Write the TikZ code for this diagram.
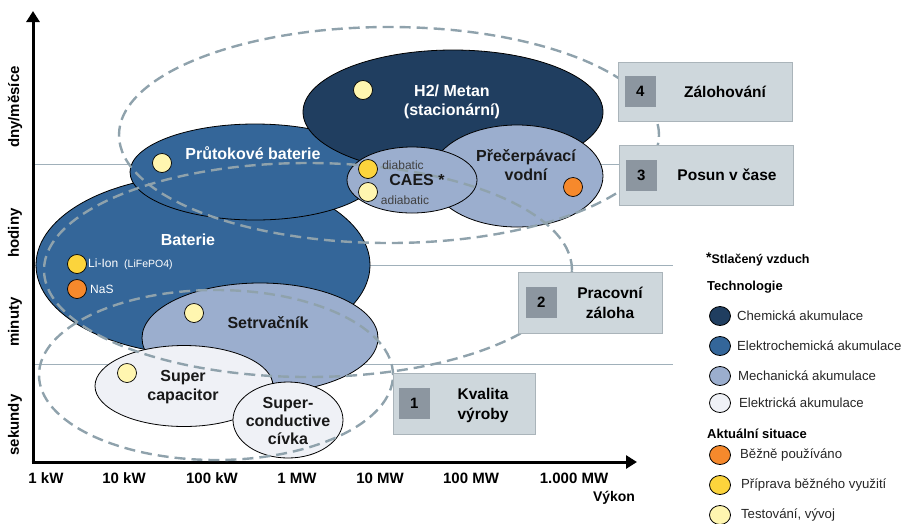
\documentclass[tikz,border=0pt]{standalone}
\usepackage{fontspec}
\setmainfont{Liberation Sans}
\usetikzlibrary{shapes.geometric, arrows.meta, positioning}
\definecolor{chemNavy}{RGB}{32, 62, 96}
\definecolor{elchemBlue}{RGB}{52, 102, 153}
\definecolor{mechBlue}{RGB}{155, 174, 206}
\definecolor{elecGray}{RGB}{239, 241, 246}
\definecolor{usedOrange}{RGB}{246, 137, 44}
\definecolor{prepGold}{RGB}{252, 212, 60}
\definecolor{testYellow}{RGB}{255, 246, 176}
\definecolor{zoneGray}{RGB}{143, 162, 172}
\definecolor{gridGray}{RGB}{160, 176, 186}
\definecolor{boxFill}{RGB}{206, 215, 220}
\definecolor{boxLine}{RGB}{170, 180, 186}
\definecolor{numGray}{RGB}{140, 150, 160}

\begin{document}
\begin{tikzpicture}[
    % one unit = one pixel of the chart, y runs downwards
    x=1pt, y=-1pt,
    % --- Storage Technology Blobs ---
    blob/.style={ellipse, draw=black, line width=0.8pt, inner sep=0pt},
    chemBlob/.style={blob, fill=chemNavy},
    elchemBlob/.style={blob, fill=elchemBlue},
    mechBlob/.style={blob, fill=mechBlue},
    elecBlob/.style={blob, fill=elecGray},
    % --- Application Zones ---
    zone/.style={ellipse, draw=zoneGray, line width=2.4pt, dash pattern=on 11pt off 6pt, inner sep=0pt},
    % --- Status Dots ---
    dot/.style={circle, draw=black, line width=0.7pt, minimum size=19pt, inner sep=0pt},
    legendDot/.style={ellipse, draw=black, line width=0.8pt, minimum width=21pt, minimum height=19pt, inner sep=0pt},
    % --- Texts ---
    lightText/.style={font=\bfseries\fontsize{16}{19.5}\selectfont, text=white, align=center},
    darkText/.style={font=\bfseries\fontsize{16}{19}\selectfont, text=black!90, align=center},
    smallText/.style={font=\fontsize{12}{14}\selectfont, inner sep=0pt},
    axisLabel/.style={font=\bfseries\fontsize{15}{17}\selectfont},
    legendTitle/.style={font=\bfseries\fontsize{13}{15}\selectfont, anchor=west, inner sep=0pt},
    legendText/.style={font=\fontsize{13.2}{15}\selectfont, text=black!85, inner sep=0pt},
    % --- Application Boxes ---
    appBox/.style={rectangle, fill=boxFill, draw=boxLine, line width=0.8pt, minimum height=60pt},
    numBox/.style={rectangle, fill=numGray, minimum size=31pt, inner sep=0pt, font=\bfseries\fontsize{15}{17}\selectfont},
    boxText/.style={font=\bfseries\fontsize{15.5}{20}\selectfont, align=center},
    gridLine/.style={draw=gridGray, line width=0.8pt},
    axis/.style={-{Triangle[length=11pt, width=13pt]}, line width=3pt}
]
    \useasboundingbox (0,0) rectangle (904,523);

    % --- Grid Lines (time bands) ---
    \draw [gridLine] (33,164) -- (619,164);
    \draw [gridLine] (33,265) -- (673,265);
    \draw [gridLine] (33,364) -- (673,364);

    % --- Axes ---
    \coordinate (origin) at (33,462);
    \coordinate (xTip) at (637,462);
    \coordinate (yTip) at (33,11);
    \draw [axis] ([yshift=-1.5pt]origin) -- (yTip);
    \draw [axis] ([xshift=-1.5pt]origin) -- (xTip);

    \node [axisLabel, rotate=90] (dny) at (15,107) {dny/měsíce};
    \node [axisLabel, rotate=90] (hod) at (15,233) {hodiny};
    \node [axisLabel, rotate=90] (min) at (15,322) {minuty};
    \node [axisLabel, rotate=90] (sek) at (15,425) {sekundy};

    \node [axisLabel] (p1) at (46,478) {1 kW};
    \node [axisLabel] (p2) at (124,478) {10 kW};
    \node [axisLabel] (p3) at (212,478) {100 kW};
    \node [axisLabel] (p4) at (297,478) {1 MW};
    \node [axisLabel] (p5) at (380,478) {10 MW};
    \node [axisLabel] (p6) at (471,478) {100 MW};
    \node [axisLabel] (p7) at (574,478) {1.000 MW};
    \node [axisLabel, font=\bfseries\fontsize{14}{16}\selectfont] (vykon) at (614,498) {Výkon};

    % --- Technology Blobs (back to front) ---
    \node (baterie) [elchemBlob, minimum width=334pt, minimum height=180pt] at (203,265) {};
    \node (prutok) [elchemBlob, minimum width=250pt, minimum height=96pt] at (255,172) {};
    \node (h2) [chemBlob, minimum width=300pt, minimum height=124pt] at (453,112) {};
    \node (precerp) [mechBlob, minimum width=172pt, minimum height=102pt] at (517,176) {};
    \node (caes) [mechBlob, minimum width=130pt, minimum height=66pt] at (412,180) {};
    \node (setrv) [mechBlob, minimum width=236pt, minimum height=110pt] at (260,338) {};
    \node (supcap) [elecBlob, minimum width=178pt, minimum height=81pt] at (184,386) {};
    \node (supcond) [elecBlob, minimum width=110pt, minimum height=76pt] at (288,420) {};

    % --- Application Zones (dashed) ---
    \node (zone1) [zone, minimum width=354pt, minimum height=170pt] at (216,375) {};
    \node (zone2) [zone, minimum width=528pt, minimum height=214pt] at (308,270) {};
    \node (zone3) [zone, minimum width=540pt, minimum height=216pt] at (389,135) {};

    % --- Blob Labels ---
    \node [lightText] (h2Lbl) at (452,102) {H2/ Metan\\(stacionární)};
    \node [darkText] (precerpLbl) at (526,165) {Přečerpávací\\vodní};
    \node [darkText] (caesLbl) at (417,180) {CAES *};
    \node [smallText, text=black!75] (diabLbl) at (403,165) {diabatic};
    \node [smallText, text=black!75] (adiabLbl) at (405,200) {adiabatic};
    \node [lightText] (prutokLbl) at (253,153) {Průtokové baterie};
    \node [lightText] (bateLbl) at (188,240) {Baterie};
    \node [darkText] (setrvLbl) at (268,323) {Setrvačník};
    \node [darkText] (supcapLbl) at (183,387) {Super\\capacitor};
    \node [darkText, font=\bfseries\fontsize{16}{18}\selectfont] (supcondLbl) at (288,421) {Super-\\conductive\\cívka};

    % --- Status Dots ---
    \node (dotH2) [dot, fill=testYellow] at (363,90) {};
    \node (dotPrecerp) [dot, fill=usedOrange] at (573,187) {};
    \node (dotDiab) [dot, fill=prepGold] at (368,169) {};
    \node (dotAdiab) [dot, fill=testYellow] at (368,192) {};
    \node (dotPrutok) [dot, fill=testYellow] at (162,163) {};
    \node (dotLiIon) [dot, fill=prepGold] at (77,264) {};
    \node (dotNaS) [dot, fill=usedOrange] at (77,289) {};
    \node (dotSetrv) [dot, fill=testYellow] at (194,313) {};
    \node (dotSupcap) [dot, fill=testYellow] at (127,373) {};

    \node [smallText, text=white, anchor=west] (liIonLbl) at (88,264) {Li-Ion\hspace{6pt}{\fontsize{10.5}{12}\selectfont(LiFePO4)}};
    \node [smallText, text=white, anchor=west] (nasLbl) at (90,289) {NaS};

    % --- Application Boxes ---
    \node (box4) [appBox, minimum width=174pt, minimum height=59pt] at (705,91.5) {};
    \node (num4) [numBox, right=7pt of box4.west] {4};
    \node [boxText] at (725,92) {Zálohování};

    \node (box3) [appBox, minimum width=174pt] at (706,175) {};
    \node (num3) [numBox, right=7pt of box3.west] {3};
    \node [boxText] at (727,175) {Posun v čase};

    \node (box2) [appBox, minimum width=144pt, minimum height=61pt] at (590,302.5) {};
    \node (num2) [numBox, right=8pt of box2.west] {2};
    \node [boxText] at (610,303) {Pracovní\\záloha};

    \node (box1) [appBox, minimum width=142pt, minimum height=61pt] at (464,403.5) {};
    \node (num1) [numBox, right=6pt of box1.west] {1};
    \node [boxText] at (483,405) {Kvalita\\výroby};

    % --- Legend ---
    \node [legendTitle, font=\bfseries\fontsize{12.5}{14}\selectfont] (note) at (706,259) {\raisebox{1pt}{\fontsize{14}{14}\selectfont *}Stlačený vzduch};
    \node [legendTitle] (techTitle) at (707,287) {Technologie};
    \node (legChem) [legendDot, fill=chemNavy] at (720,316) {};
    \node [legendText, right=6pt of legChem] {Chemická akumulace};
    \node (legElchem) [legendDot, fill=elchemBlue] at (720,346) {};
    \node [legendText, right=6pt of legElchem] {Elektrochemická akumulace};
    \node (legMech) [legendDot, fill=mechBlue] at (720,376) {};
    \node [legendText, right=7pt of legMech] {Mechanická akumulace};
    \node (legElec) [legendDot, fill=elecGray] at (720,403) {};
    \node [legendText, right=8pt of legElec] {Elektrická akumulace};

    \node [legendTitle] (stateTitle) at (707,434) {Aktuální situace};
    \node (legUsed) [legendDot, fill=usedOrange] at (720,455) {};
    \node [legendText, right=9pt of legUsed] {Běžně používáno};
    \node (legPrep) [legendDot, fill=prepGold] at (720,485) {};
    \node [legendText, right=10pt of legPrep] {Příprava běžného využití};
    \node (legTest) [legendDot, fill=testYellow] at (720,515) {};
    \node [legendText, right=10pt of legTest] {Testování, vývoj};

\end{tikzpicture}
\end{document}
